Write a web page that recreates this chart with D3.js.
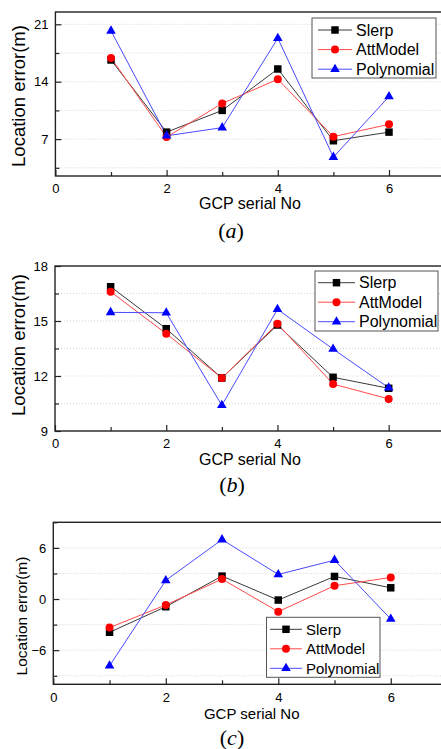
<!DOCTYPE html>
<html>
<head>
<meta charset="utf-8">
<script src="https://cdn.jsdelivr.net/npm/d3@7"></script>
<style>
body { margin: 0; background: #fff; }
text { font-family: "Liberation Sans", Arial, sans-serif; fill: #000; }
</style>
</head>
<body>
<svg class="d3svg" width="441" height="749"></svg>
<script>
// data
var series_names = ["Slerp", "AttModel", "Polynomial"];
var gcp_no = [1, 2, 3, 4, 5, 6];
var x_ticks = [0, 2, 4, 6];

var slerp_a      = [16.65, 7.85, 10.5, 15.55, 6.8, 7.85];
var attmodel_a   = [16.9, 7.25, 11.35, 14.3, 7.3, 8.8];
var polynomial_a = [20.2, 7.4, 8.4, 19.3, 4.8, 12.2];
var y_ticks_a = [7, 14, 21];

var slerp_b      = [16.87, 14.58, 11.89, 14.78, 11.93, 11.33];
var attmodel_b   = [16.6, 14.31, 11.89, 14.85, 11.56, 10.75];
var polynomial_b = [15.47, 15.45, 10.4, 15.64, 13.47, 11.36];
var y_ticks_b = [9, 12, 15, 18];

var slerp_c      = [-3.9, -0.9, 2.69, -0.12, 2.65, 1.32];
var attmodel_c   = [-3.35, -0.7, 2.34, -1.48, 1.56, 2.53];
var polynomial_c = [-7.83, 2.18, 6.97, 2.88, 4.56, -2.34];
var y_ticks_c = [-6, 0, 6];

var line_colors = ["#3a3a3a", "#ff4a4a", "#4a4aff"];
var mark_colors = ["#000000", "#ff0000", "#0000ff"];
var symbols = [d3.symbolSquare, d3.symbolCircle, d3.symbolTriangle];
var sym_sizes = [56, 50, 40];

var svg = d3.select(".d3svg");

var panels = [
    {series: [slerp_a, attmodel_a, polynomial_a], yt: y_ticks_a, ydom: [2.5, 22.5],
     l: 55.4, r: 444.6, t: 12, b: 176, ylab: [18, 96, 18.5], xlab: [250, 209, 16],
     leg: [312, 18, 124, 60, 30, 19.6, 318, 352, 356, 16], cap: [231, 238]},
    {series: [slerp_b, attmodel_b, polynomial_b], yt: y_ticks_b, ydom: [9, 18],
     l: 55, r: 444.3, t: 266, b: 431, ylab: [18.5, 345, 18.5], xlab: [250, 465, 16],
     leg: [315, 271, 123, 60, 282.7, 19.5, 318, 355, 359, 16], cap: [232, 492]},
    {series: [slerp_c, attmodel_c, polynomial_c], yt: y_ticks_c, ydom: [-10, 9],
     l: 53.3, r: 447, t: 522.3, b: 684.3, ylab: [21, 616, 15.5], xlab: [251.7, 719, 15],
     leg: [266.5, 617.3, 113.5, 60, 629.3, 19.5, 270, 302, 306, 15], cap: [232, 745]}
];

var captions = ["a", "b", "c"];

function minor_of(major, dom) {
    var step = major[1] - major[0];
    var out = [];
    for (var v = major[0] - step / 2; v <= dom[1] + 1e-9; v += step) {
        if (v >= dom[0] - 1e-9) out.push(v);
    }
    return out;
}

panels.forEach(function(p, k) {
    var x = d3.scaleLinear().domain([0, 7]).range([p.l, p.r]);
    var y = d3.scaleLinear().domain(p.ydom).range([p.b, p.t]);
    var g = svg.append("g");
    var y_minor = minor_of(p.yt, p.ydom);

    // dotted grid
    g.selectAll(".grid")
        .data(p.yt.concat(y_minor).filter(function(v) { return v > p.ydom[0] && v < p.ydom[1]; }))
        .enter().append("line")
        .attr("x1", p.l).attr("x2", p.r)
        .attr("y1", function(d) { return y(d); })
        .attr("y2", function(d) { return y(d); })
        .attr("stroke", "#c8c8c8")
        .attr("stroke-width", 0.8)
        .attr("stroke-dasharray", "1,2");

    // axes with inward ticks
    g.append("g").attr("transform", "translate(" + p.l + ",0)")
        .call(d3.axisLeft(y).tickValues(p.yt).tickSize(-6).tickPadding(7).tickFormat(d3.format("d")));
    g.append("g").attr("transform", "translate(" + p.l + ",0)")
        .call(d3.axisLeft(y).tickValues(y_minor).tickSize(-4).tickFormat(""));
    g.append("g").attr("transform", "translate(0," + p.b + ")")
        .call(d3.axisBottom(x).tickValues(x_ticks).tickSize(-6).tickPadding(8).tickFormat(d3.format("d")));
    g.append("g").attr("transform", "translate(0," + p.b + ")")
        .call(d3.axisBottom(x).tickValues([1, 3, 5]).tickSize(-4).tickFormat(""));
    g.selectAll(".domain").remove();
    g.selectAll(".tick line").attr("stroke", "#222").attr("stroke-width", 1.2);
    g.selectAll(".tick text").style("font-family", "Liberation Sans, Arial, sans-serif")
        .style("font-size", "13px").attr("fill", "#000");

    g.append("rect")
        .attr("x", p.l).attr("y", p.t)
        .attr("width", p.r - p.l).attr("height", p.b - p.t)
        .attr("fill", "none")
        .attr("stroke", "#222")
        .attr("stroke-width", 1.4);

    // series
    var line = d3.line()
        .x(function(d, i) { return x(gcp_no[i]); })
        .y(function(d) { return y(d); });

    p.series.forEach(function(vals, s) {
        g.append("path")
            .attr("d", line(vals))
            .attr("fill", "none")
            .attr("stroke", line_colors[s])
            .attr("stroke-width", 1);
    });
    p.series.forEach(function(vals, s) {
        g.selectAll(".m" + s)
            .data(vals)
            .enter().append("path")
            .attr("d", d3.symbol().type(symbols[s]).size(sym_sizes[s]))
            .attr("transform", function(d, i) { return "translate(" + x(gcp_no[i]) + "," + y(d) + ")"; })
            .attr("fill", mark_colors[s]);
    });

    // axis titles
    g.append("text")
        .attr("transform", "translate(" + p.ylab[0] + "," + p.ylab[1] + ") rotate(-90)")
        .attr("text-anchor", "middle")
        .attr("dominant-baseline", "central")
        .style("font-size", p.ylab[2] + "px")
        .text("Location error(m)");
    g.append("text")
        .attr("x", p.xlab[0]).attr("y", p.xlab[1])
        .attr("text-anchor", "middle")
        .style("font-size", p.xlab[2] + "px")
        .text("GCP serial No");

    // legend
    var lg = p.leg;
    g.append("rect")
        .attr("x", lg[0]).attr("y", lg[1])
        .attr("width", lg[2]).attr("height", lg[3])
        .attr("fill", "#fff")
        .attr("stroke", "#555")
        .attr("stroke-width", 1);
    series_names.forEach(function(name, s) {
        var ry = lg[4] + s * lg[5];
        g.append("line")
            .attr("x1", lg[6]).attr("x2", lg[7])
            .attr("y1", ry).attr("y2", ry)
            .attr("stroke", line_colors[s])
            .attr("stroke-width", 1);
        g.append("path")
            .attr("d", d3.symbol().type(symbols[s]).size(sym_sizes[s]))
            .attr("transform", "translate(" + ((lg[6] + lg[7]) / 2) + "," + ry + ")")
            .attr("fill", mark_colors[s]);
        g.append("text")
            .attr("x", lg[8]).attr("y", ry)
            .attr("dominant-baseline", "central")
            .style("font-size", lg[9] + "px")
            .text(name);
    });

    // caption
    var cap = g.append("text")
        .attr("x", p.cap[0]).attr("y", p.cap[1])
        .attr("text-anchor", "middle")
        .style("font-family", "Liberation Serif, Times New Roman, serif")
        .style("font-size", "22px");
    cap.append("tspan").text("(");
    cap.append("tspan").style("font-style", "italic").text(captions[k]);
    cap.append("tspan").text(")");
});
</script>
</body>
</html>
